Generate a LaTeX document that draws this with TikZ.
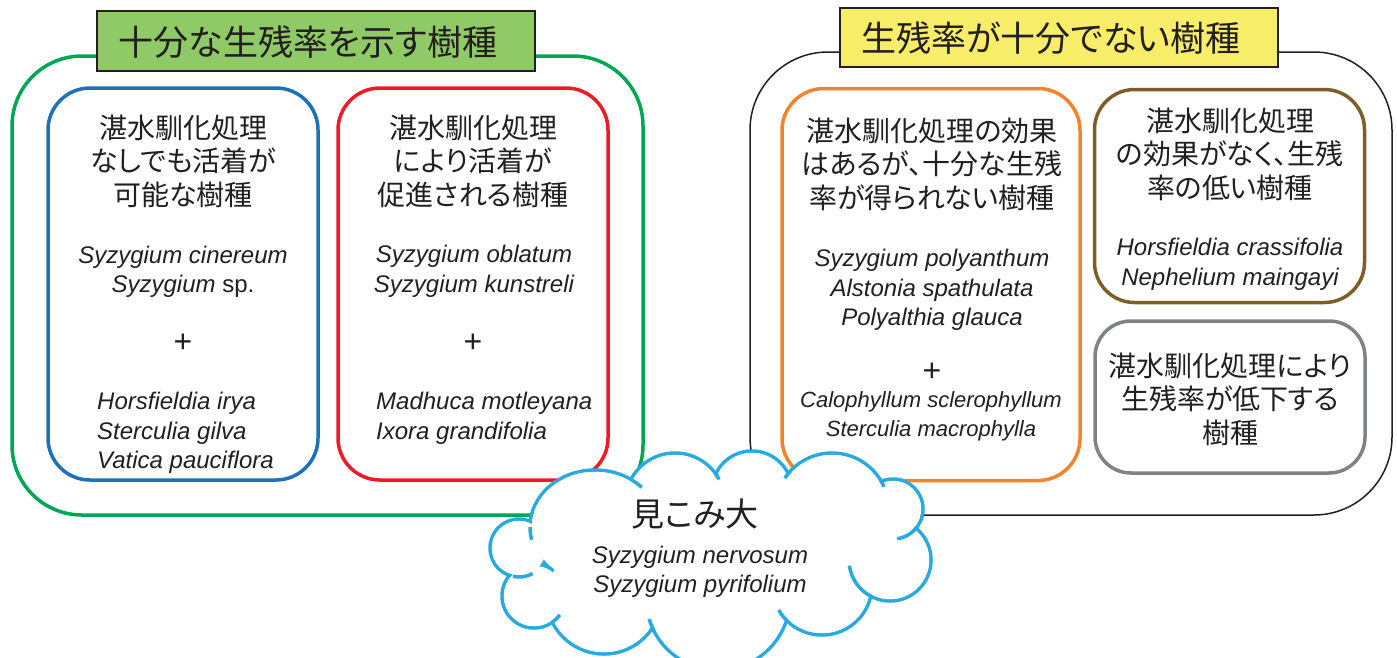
\documentclass[tikz,border=0pt]{standalone}
\usepackage{fontspec}
\setmainfont{Liberation Sans}
\newfontfamily\jp[RawFeature=+palt]{Noto Sans CJK JP}
\definecolor{ctext}{RGB}{35,31,32}
\definecolor{cgreen}{RGB}{0,166,81}
\definecolor{cblue}{RGB}{28,113,184}
\definecolor{cred}{RGB}{237,28,36}
\definecolor{corange}{RGB}{242,133,44}
\definecolor{cbrown}{RGB}{125,94,40}
\definecolor{cgray}{RGB}{128,130,133}
\definecolor{ccloud}{RGB}{39,170,225}
\definecolor{ctitleg}{RGB}{143,202,102}
\definecolor{ctitley}{RGB}{247,237,104}
\begin{document}
\begin{tikzpicture}[x=1pt,y=-1pt,
  box/.style={draw, line width=3.5pt, rounded corners=42pt, inner sep=0pt},
  outerbox/.style={draw, rounded corners=70pt, inner sep=0pt},
  titlebox/.style={draw=ctext, line width=2.5pt, inner sep=0pt},
  jptext/.style={font=\jp\fontsize{28}{33.5}\selectfont, align=center, text=ctext, inner sep=0pt},
  jptitle/.style={font=\jp\fontsize{35}{40}\selectfont, text=ctext, inner sep=0pt},
  sptext/.style={font=\fontsize{24}{29.5}\selectfont\itshape, align=center, text=ctext, inner sep=0pt},
  plus/.style={font=\fontsize{32}{32}\selectfont, text=ctext, inner sep=0pt},
  cloudline/.style={draw=ccloud, line width=3.5pt},
  cloudstub/.style={draw=ccloud, line width=3.5pt, line cap=butt}
]
\useasboundingbox (0,0) rectangle (1397,657);
\fill[white] (0,0) rectangle (1397,657);

% outer groups
\node[outerbox, draw=cgreen, line width=3.5pt, minimum width=631pt, minimum height=459pt] (good) at (327.5,285.5) {};
\node[outerbox, draw=ctext, line width=1.5pt, rounded corners=78pt, minimum width=642pt, minimum height=463pt] (poor) at (1071,283.5) {};

% inner boxes
\node[box, draw=cblue, minimum width=270pt, minimum height=392pt] (blue) at (183,284) {};
\node[box, draw=cred, minimum width=270pt, minimum height=392pt] (red) at (473,284) {};
\node[box, draw=corange, minimum width=298pt, minimum height=392pt] (orange) at (931,284.5) {};
\node[box, draw=cbrown, rounded corners=40pt, minimum width=270pt, minimum height=213pt] (brown) at (1229.5,196) {};
\node[box, draw=cgray, rounded corners=36pt, minimum width=270pt, minimum height=152pt] (gray) at (1230,397) {};

% titles
\node[titlebox, fill=ctitleg, minimum width=438pt, minimum height=60pt] (gtitle) at (316,41) {};
\node[jptitle] (gtitletext) at (308,42) {十分な生残率を示す樹種};
\node[titlebox, fill=ctitley, minimum width=438pt, minimum height=59pt] (ytitle) at (1059,37.5) {};
\node[jptitle] (ytitletext) at (1051,38) {生残率が十分でない樹種};

% blue box content
\node[jptext] (bluehead) at (183,161) {湛水馴化処理\\なしでも活着が\\可能な樹種};
\node[sptext] (bluesp) at (183,272) {Syzygium cinereum\\Syzygium {\upshape sp.}};
\node[plus] (blueplus) at (183,343) {+};
\node[sptext, align=left, anchor=west] (bluesp2) at (97,433) {Horsfieldia irya\\Sterculia gilva\\Vatica pauciflora};

% red box content
\node[jptext] (redhead) at (473,161) {湛水馴化処理\\により活着が\\促進される樹種};
\node[sptext] (redsp) at (474,271.5) {Syzygium oblatum\\Syzygium kunstreli};
\node[plus] (redplus) at (473,343) {+};
\node[sptext, align=left, anchor=west] (redsp2) at (376,418.5) {Madhuca motleyana\\Ixora grandifolia};

% orange box content
\node[jptext] (orangehead) at (932,164) {湛水馴化処理の効果\\はあるが、十分な生残\\率が得られない樹種};
\node[sptext] (orangesp) at (932,290) {Syzygium polyanthum\\Alstonia spathulata\\Polyalthia glauca};
\node[plus] (orangeplus) at (932,372) {+};
\node[sptext, font=\fontsize{22}{29}\selectfont\itshape] (orangesp2) at (931,416.5) {Calophyllum sclerophyllum\\Sterculia macrophylla};

% brown box content
\node[jptext] (brownhead) at (1230,154) {湛水馴化処理\\の効果がなく、生残\\率の低い樹種};
\node[sptext] (brownsp) at (1230,264.5) {Horsfieldia crassifolia\\Nephelium maingayi};

% gray box content
\node[jptext] (grayhead) at (1230,399) {湛水馴化処理により\\生残率が低下する\\樹種};

% cloud: union of puffs
\draw[cloudline] (595,527) ellipse[x radius=65, y radius=57];
\foreach \cx/\cy/\r in {519/548/29, 534/596/32, 604/596/58, 718/598/72, 822/585/50, 890/560/41, 893/509/30, 832/510/57, 752/491/40, 675/503/50}
  \draw[cloudline] (\cx,\cy) circle[radius=\r];
\fill[white] (595,527) ellipse[x radius=63.2, y radius=55.2];
\foreach \cx/\cy/\r in {519/548/29, 534/596/32, 604/596/58, 718/598/72, 822/585/50, 890/560/41, 893/509/30, 832/510/57, 752/491/40, 675/503/50}
  \fill[white] (\cx,\cy) circle[radius=\r-1.8];
\fill[white] (708,552) ellipse[x radius=150, y radius=45];
% cloud: inner stubs
\draw[cloudstub] (595,527) ++(180:65 and 57) arc[start angle=180, end angle=167, x radius=65, y radius=57];
\draw[cloudstub] (519,548) ++(102:29) arc[start angle=102, end angle=62, radius=29];
\draw[cloudstub] (534,596) ++(56:32) arc[start angle=56, end angle=36, radius=32];
\draw[cloudstub] (718,598) ++(152:72) arc[start angle=152, end angle=163, radius=72];
\draw[cloudstub] (822,585) ++(136:50) arc[start angle=136, end angle=150, radius=50];
\draw[cloudstub] (890,560) ++(116:41) arc[start angle=116, end angle=172, radius=41];
\draw[cloudstub] (893,509) ++(37:30) arc[start angle=37, end angle=82, radius=30];
\draw[cloudstub] (832,510) ++(-32:57) arc[start angle=-32, end angle=-24, radius=57];
\draw[cloudstub] (832,510) ++(-136:57) arc[start angle=-136, end angle=-146, radius=57];
\draw[cloudstub] (675,503) ++(-37:50) arc[start angle=-37, end angle=-28, radius=50];
\draw[cloudstub] (595,527) ++(-55:65 and 57) arc[start angle=-55, end angle=-44, x radius=65, y radius=57];

\node[jptitle, font=\jp\fontsize{33}{33}\selectfont] (mikomi) at (695,514) {見こみ大};
\node[sptext] (cloudsp) at (700,572) {Syzygium nervosum\\Syzygium pyrifolium};
\end{tikzpicture}
\end{document}
